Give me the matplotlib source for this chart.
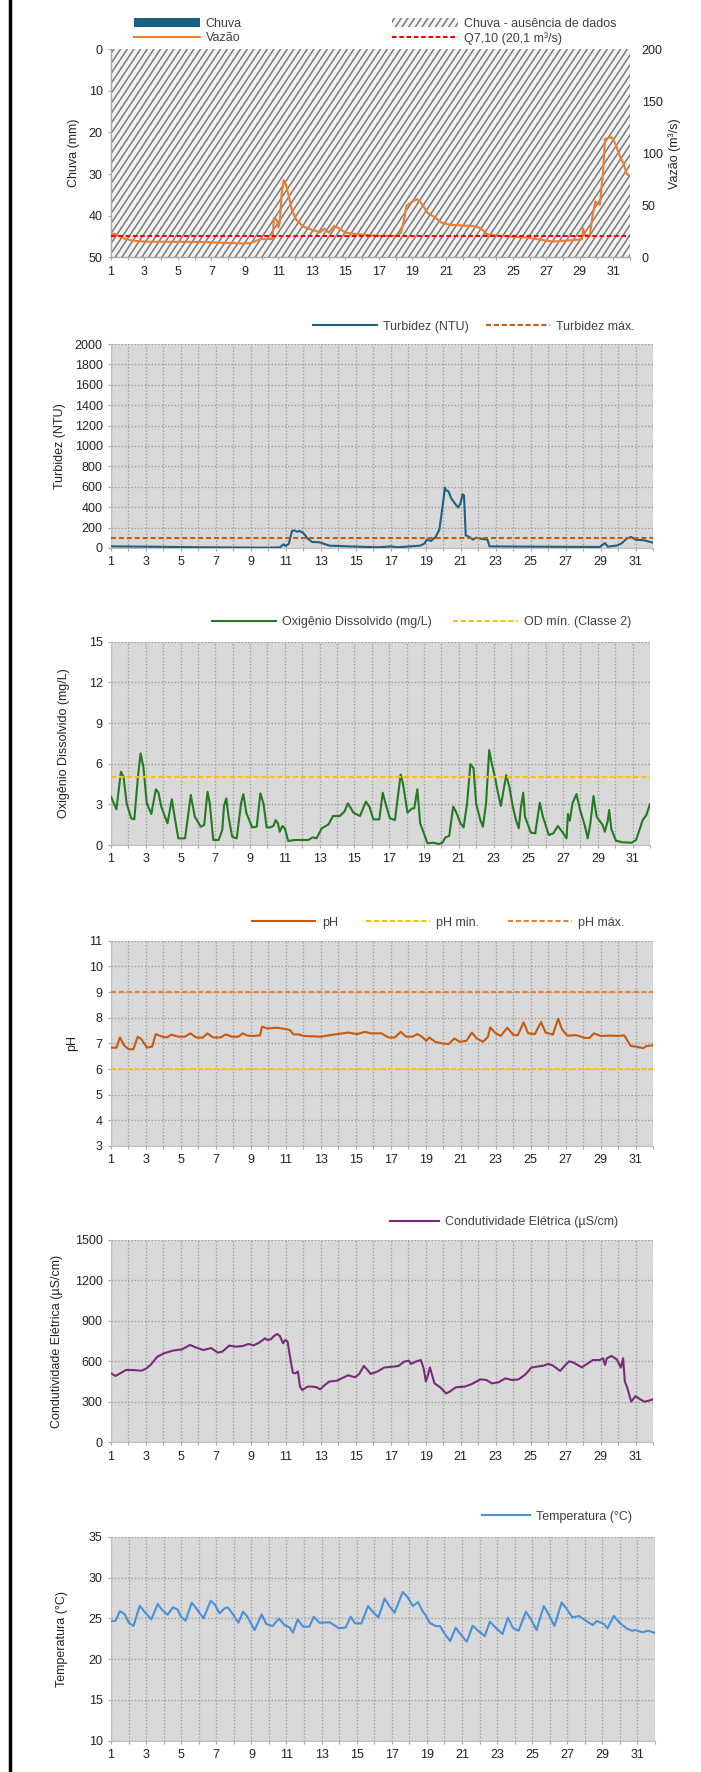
import matplotlib
matplotlib.use('Agg')
import numpy as np
import matplotlib.pyplot as plt
import matplotlib.hatch as mhatch
from matplotlib.path import Path
from matplotlib.lines import Line2D

W, H = 701, 1772
DPI = 100

plt.rcParams['font.family'] = ['Liberation Sans', 'DejaVu Sans']
plt.rcParams['font.size'] = 9
plt.rcParams['hatch.linewidth'] = 1.1
plt.rcParams['hatch.color'] = '#7a7a7a'


# steeper, denser '/' hatch (about 56 degrees, ~6.7 px apart) like the reference
def _ne_init(self, hatch, density):
    n = hatch.count('/')
    self.offsets = np.arange(-10, 16) / 15.0 if n else np.array([])
    self.num_vertices = 2 * len(self.offsets)


def _ne_set(self, vertices, codes):
    c = self.offsets
    vertices[0::2, 0] = c
    vertices[0::2, 1] = 0.0
    vertices[1::2, 0] = c + 2.0 / 3.0
    vertices[1::2, 1] = 1.0
    codes[0::2] = Path.MOVETO
    codes[1::2] = Path.LINETO


mhatch.NorthEastHatch.__init__ = _ne_init
mhatch.NorthEastHatch.set_vertices_and_codes = _ne_set

# ---------------- data ----------------
dias = list(range(1, 32))
day_ticks = list(range(1, 33))
day_labels = [str(d) if (d % 2 == 1 and d <= 31) else '' for d in day_ticks]

chuva = [0, 0, 0, 0, 0, 0, 0, 0, 0, 0, 0, 0, 0, 0, 0, 0, 0, 0, 0, 0,
         0, 0, 0, 0, 0, 0, 0, 0, 0, 0, 0]
chuva_ausencia = [50, 50, 50, 50, 50, 50, 50, 50, 50, 50, 50, 50, 50, 50, 50, 50,
                  50, 50, 50, 50, 50, 50, 50, 50, 50, 50, 50, 50, 50, 50, 50]

vazao_dia = [1.0, 1.3, 1.8, 2.3, 3.1, 6.3, 9.0, 9.4, 9.9, 10.65, 10.73, 10.9, 11.0, 11.08, 11.19,
             11.32, 11.45, 11.6, 11.8, 12.07, 12.47, 13.0, 13.5, 13.75, 14.0, 14.33, 14.6, 15.0,
             15.67, 17.0, 18.07, 18.33, 18.5, 18.65, 19.0, 19.27, 19.53, 19.93, 20.33, 20.73,
             21.27, 22.07, 22.6, 23.08, 23.45, 24.2, 25.8, 27.4, 28.73, 29.13, 29.2, 29.3, 29.6,
             29.75, 29.93, 30.07, 30.2, 30.4, 30.5, 30.7, 30.9, 31.1, 31.4, 31.6, 31.8, 31.93]
vazao = [23, 22, 18, 16, 15, 14.8, 13.2, 14, 17.4, 17.7, 37.6, 36, 28.6, 32.8, 60.8,
         74, 69.8, 60, 45.7, 36, 29.6, 26.4, 24, 27.6, 23.8, 30.2, 28, 23.8,
         22.2, 20.6, 20.6, 24, 36, 49.5, 53.7, 56, 52, 42.4, 38.6, 33.4,
         31.2, 30.5, 30.2, 28, 22.2, 20.6, 19, 15.1, 16.7, 17.4, 28, 21.5, 20.6,
         39, 53.7, 51.4, 50.5, 84, 113.8, 114.8, 115.4, 110, 97, 90.7, 80.4, 78.5]
q710 = 20.1

turb_dia = [1.0, 3.26, 6.1, 9.94, 10.66, 10.86, 11.0, 11.17, 11.35, 11.48, 11.63, 11.79, 12.0,
            12.25, 12.5, 12.9, 13.15, 13.5, 14.56, 16.36, 17.0, 17.4, 18.67, 18.93, 19.06, 19.3,
            19.57, 19.78, 19.96, 20.1, 20.16, 20.3, 20.47, 20.68, 20.86, 20.98, 21.11, 21.19,
            21.29, 21.5, 21.7, 21.88, 22.14, 22.53, 22.65, 25.35, 28.95, 29.26, 29.41, 29.98,
            30.23, 30.49, 30.75, 31.0, 31.5, 32.0]
turbidez = [16, 13, 7, 3, 6, 36, 20, 42, 167, 173, 160, 167, 147,
            92, 59, 56, 43, 23, 16, 7, 16, 7, 23, 43, 82, 69,
            108, 180, 402, 592, 566, 556, 484, 435, 396, 435, 527, 517,
            124, 108, 82, 101, 92, 82, 16, 13, 10, 49, 13, 26,
            49, 92, 108, 82, 75, 52]
turb_max = 100

od_dia = [1.0, 1.31, 1.57, 1.72, 1.9, 2.16, 2.34, 2.55, 2.7, 2.86,
          3.06, 3.32, 3.58, 3.73, 3.89, 4.25, 4.5, 4.66, 4.87, 5.26,
          5.59, 5.82, 6.16, 6.36, 6.55, 6.68, 6.88, 7.19, 7.4, 7.5,
          7.63, 7.76, 7.97, 8.23, 8.48, 8.61, 8.79, 9.12, 9.38, 9.59,
          9.77, 9.95, 10.16, 10.34, 10.47, 10.6, 10.7, 10.86, 11.0, 11.19,
          11.58, 12.35, 12.61, 12.82, 13.12, 13.51, 13.77, 14.16, 14.42, 14.63,
          14.94, 15.32, 15.66, 15.86, 16.09, 16.43, 16.63, 16.79, 17.04, 17.33,
          17.66, 17.79, 18.05, 18.31, 18.44, 18.62, 18.78, 19.03, 19.21, 19.55,
          19.86, 20.06, 20.24, 20.45, 20.68, 20.84, 21.1, 21.28, 21.48, 21.67,
          21.85, 22.0, 22.24, 22.39, 22.57, 22.75, 22.9, 23.08, 23.26, 23.42,
          23.73, 23.91, 24.11, 24.29, 24.45, 24.58, 24.71, 24.81, 25.15, 25.4,
          25.66, 25.84, 26.18, 26.44, 26.7, 26.95, 27.2, 27.28, 27.39, 27.54,
          27.77, 27.98, 28.24, 28.42, 28.57, 28.75, 28.93, 29.27, 29.4, 29.57,
          29.65, 29.78, 30.04, 30.42, 30.94, 31.2, 31.58, 31.79, 32.0]
od = [3.57, 2.63, 5.41, 5.04, 3.07, 1.97, 1.89, 5.04, 6.76, 5.78,
      3.07, 2.29, 4.11, 3.86, 2.83, 1.6, 3.37, 2.09, 0.49, 0.49,
      3.69, 2.09, 1.35, 1.48, 3.93, 3.07, 0.37, 0.37, 1.11, 2.88,
      3.44, 2.09, 0.61, 0.49, 3.07, 3.76, 2.34, 1.3, 1.35, 3.81,
      3.07, 1.3, 1.3, 1.4, 1.84, 1.6, 0.98, 1.4, 1.23, 0.3,
      0.37, 0.37, 0.57, 0.49, 1.23, 1.52, 2.14, 2.14, 2.46, 3.07,
      2.39, 2.14, 3.2, 2.83, 1.89, 1.89, 3.86, 3.07, 1.97, 1.84,
      5.21, 4.55, 2.39, 2.7, 2.7, 4.11, 1.6, 0.74, 0.12, 0.17,
      0.07, 0.17, 0.57, 0.66, 2.83, 2.46, 1.6, 1.3, 3.07, 5.97,
      5.66, 3.07, 1.84, 1.35, 3.07, 7.0, 6.02, 5.04, 3.81, 2.88,
      5.16, 4.3, 2.83, 1.84, 1.23, 2.83, 3.86, 2.09, 0.91, 0.86,
      3.12, 2.09, 0.74, 0.86, 1.4, 0.98, 0.49, 2.29, 1.79, 3.07,
      3.76, 2.58, 1.48, 0.49, 1.6, 3.61, 2.09, 1.48, 0.98, 1.79,
      2.58, 1.16, 0.32, 0.2, 0.17, 0.37, 1.84, 2.21, 3.02]
od_min = 5

ph_dia = [1.0, 1.31, 1.51, 1.77, 2.02, 2.28, 2.53, 2.74, 3.05, 3.35,
          3.56, 3.94, 4.2, 4.45, 4.84, 5.22, 5.55, 5.86, 6.24, 6.52,
          6.83, 7.27, 7.55, 7.91, 8.29, 8.54, 8.8, 9.18, 9.52, 9.64,
          9.95, 10.46, 10.97, 11.23, 11.43, 11.74, 12.0, 13.02, 13.53, 14.56,
          15.07, 15.53, 15.84, 16.47, 16.86, 17.24, 17.57, 17.88, 18.26, 18.52,
          18.78, 19.03, 19.21, 19.54, 19.93, 20.31, 20.64, 20.95, 21.33, 21.64,
          21.92, 22.28, 22.56, 22.69, 23.0, 23.3, 23.66, 24.02, 24.27, 24.6,
          24.86, 25.24, 25.6, 25.86, 26.27, 26.58, 26.79, 27.09, 27.6, 28.11,
          28.37, 28.62, 29.0, 29.52, 30.03, 30.36, 30.72, 31.05, 31.43, 31.64,
          32.0]
ph = [6.83, 6.83, 7.23, 6.9, 6.77, 6.77, 7.26, 7.16, 6.84, 6.87,
      7.36, 7.26, 7.23, 7.34, 7.26, 7.26, 7.39, 7.23, 7.22, 7.39,
      7.23, 7.23, 7.35, 7.26, 7.26, 7.39, 7.3, 7.29, 7.31, 7.65,
      7.58, 7.61, 7.56, 7.52, 7.35, 7.35, 7.29, 7.26, 7.32, 7.42,
      7.36, 7.45, 7.39, 7.39, 7.23, 7.23, 7.45, 7.26, 7.26, 7.36,
      7.26, 7.1, 7.23, 7.06, 7.0, 6.97, 7.19, 7.06, 7.1, 7.42,
      7.19, 7.06, 7.26, 7.62, 7.39, 7.29, 7.61, 7.32, 7.32, 7.82,
      7.39, 7.36, 7.83, 7.42, 7.34, 7.96, 7.55, 7.3, 7.32, 7.21,
      7.21, 7.39, 7.29, 7.3, 7.29, 7.31, 6.9, 6.87, 6.81, 6.9,
      6.92]
ph_min = 6
ph_max = 9

ce_dia = [1.0, 1.26, 1.59, 1.85, 2.23, 2.75, 3.0, 3.26, 3.65, 4.03,
          4.54, 5.06, 5.52, 5.83, 6.29, 6.73, 7.11, 7.37, 7.76, 8.14,
          8.53, 8.86, 9.17, 9.48, 9.81, 9.94, 10.14, 10.32, 10.5, 10.66,
          10.84, 10.97, 11.1, 11.27, 11.4, 11.53, 11.69, 11.81, 11.94, 12.25,
          12.51, 12.76, 12.97, 13.23, 13.48, 13.92, 14.56, 14.95, 15.2, 15.46,
          15.64, 15.85, 16.23, 16.62, 17.13, 17.44, 17.77, 18.03, 18.16, 18.42,
          18.72, 18.88, 19.01, 19.13, 19.24, 19.34, 19.5, 19.83, 20.16, 20.34,
          20.73, 21.24, 21.63, 22.14, 22.47, 22.78, 23.17, 23.55, 23.94, 24.32,
          24.71, 25.04, 25.35, 25.74, 25.99, 26.25, 26.69, 26.94, 27.2, 27.46,
          27.92, 28.23, 28.56, 28.95, 29.15, 29.26, 29.36, 29.62, 29.93, 30.16,
          30.29, 30.39, 30.54, 30.75, 31.0, 31.26, 31.52, 31.77, 32.0]
condutividade = [511, 492, 516, 536, 536, 531, 546, 573, 635, 660,
                 680, 689, 722, 704, 684, 699, 665, 672, 717, 709,
                 714, 729, 719, 739, 771, 759, 764, 788, 803, 788,
                 734, 759, 746, 610, 516, 511, 524, 413, 388, 413,
                 413, 408, 393, 425, 450, 457, 497, 482, 507, 566,
                 541, 507, 524, 554, 561, 566, 598, 605, 581, 598,
                 610, 549, 450, 499, 556, 511, 437, 408, 363, 373,
                 408, 413, 432, 467, 462, 437, 445, 474, 462, 467,
                 504, 554, 561, 568, 581, 571, 529, 566, 600, 591,
                 556, 581, 610, 610, 623, 573, 623, 640, 615, 554,
                 623, 450, 400, 301, 343, 319, 301, 309, 319]

temp_dia = [1.0, 1.26, 1.51, 1.77, 2.02, 2.28, 2.64, 2.9, 3.3, 3.66,
            3.92, 4.22, 4.53, 4.79, 4.99, 5.25, 5.6, 5.86, 6.27, 6.68,
            6.93, 7.19, 7.47, 7.65, 7.85, 8.26, 8.52, 8.77, 9.18, 9.59,
            9.85, 10.21, 10.57, 10.88, 11.18, 11.36, 11.64, 11.95, 12.3, 12.56,
            12.87, 13.48, 13.99, 14.38, 14.66, 14.91, 15.27, 15.65, 15.91, 16.24,
            16.6, 16.86, 17.16, 17.62, 17.88, 18.21, 18.49, 18.72, 18.98, 19.16,
            19.49, 19.75, 20.0, 20.33, 20.64, 20.95, 21.28, 21.61, 21.92, 22.3,
            22.59, 22.9, 23.31, 23.62, 23.92, 24.23, 24.64, 24.9, 25.25, 25.66,
            25.91, 26.27, 26.68, 26.94, 27.29, 27.68, 28.06, 28.45, 28.68, 29.09,
            29.29, 29.65, 29.98, 30.37, 30.68, 30.89, 31.27, 31.6, 31.95]
temperatura = [24.62, 24.7, 25.89, 25.52, 24.46, 24.05, 26.54, 25.81, 24.87, 26.75,
               26.01, 25.44, 26.34, 26.09, 25.2, 24.71, 26.91, 26.22, 24.99, 27.16,
               26.63, 25.6, 26.22, 26.34, 25.81, 24.46, 25.81, 25.2, 23.56, 25.48,
               24.3, 24.05, 24.99, 24.17, 23.89, 23.24, 24.87, 23.97, 23.97, 25.2,
               24.46, 24.5, 23.77, 23.89, 25.2, 24.38, 24.38, 26.5, 25.81, 25.11,
               27.44, 26.5, 25.69, 28.22, 27.65, 26.5, 26.99, 26.01, 25.2, 24.46,
               24.05, 24.05, 23.15, 22.21, 23.85, 22.95, 22.13, 24.09, 23.48, 22.83,
               24.58, 23.89, 23.07, 25.07, 23.77, 23.48, 25.81, 24.99, 23.56, 26.5,
               25.6, 24.05, 26.95, 26.22, 25.11, 25.28, 24.71, 24.17, 24.67, 24.3,
               23.77, 25.28, 24.46, 23.77, 23.48, 23.56, 23.28, 23.48, 23.24]

# ---------------- figure ----------------
TXT = '#222222'
LEG = '#404040'

fig = plt.figure(figsize=(W / DPI, H / DPI), dpi=DPI)
fig.patch.set_facecolor('white')


def make_ax(top, bottom, left=111, right=653):
    return fig.add_axes([left / W, 1 - bottom / H, (right - left) / W, (bottom - top) / H])


def label_at(ax, anchor_px, left, right):
    ax.yaxis.set_label_coords((anchor_px - left) / (right - left), 0.5)


def legend_at(ax, handles, labels, x_px, y_px, **kw):
    opts = dict(loc='center left', bbox_to_anchor=(x_px / W, 1 - y_px / H),
                bbox_transform=fig.transFigure, frameon=False, borderpad=0,
                borderaxespad=0, handletextpad=0.5, fontsize=9, labelcolor=LEG)
    opts.update(kw)
    return ax.legend(handles, labels, **opts)


def style(ax, ylim, yticks):
    ax.set_xlim(1, 32)
    ax.set_ylim(*ylim)
    ax.set_yticks(yticks)
    ax.set_xticks(day_ticks)
    ax.set_xticklabels(day_labels)
    ax.set_facecolor('#d9d9d9')
    ax.grid(True, color='#9c9c9c', linestyle=(0, (1, 1.4)), linewidth=1.0)
    ax.set_axisbelow(True)
    for s in ['top', 'right']:
        ax.spines[s].set_visible(False)
    for s in ['left', 'bottom']:
        ax.spines[s].set_color('#bfbfbf')
        ax.spines[s].set_linewidth(0.8)
    ax.tick_params(axis='both', direction='out', length=2.5, width=0.8,
                   color='#a6a6a6', labelcolor=TXT, labelsize=9, pad=3.5)


# ---- Chart 1: Chuva / Vazão ----
L1, R1 = 111, 630
ax1 = make_ax(49.3, 257.3, L1, R1)
b_aus = ax1.bar(dias, chuva_ausencia, width=1.0, align='edge', facecolor='#f2f2f2',
                edgecolor='#7a7a7a', linewidth=0, hatch='/', zorder=1)
b_chuva = ax1.bar(dias, chuva, width=1.0, align='edge', color='#1a5e80', zorder=2)
ax1.set_xlim(1, 32)
ax1.set_ylim(50, 0)
ax1.set_yticks([0, 10, 20, 30, 40, 50])
ax1.set_xticks(day_ticks)
ax1.set_xticklabels(day_labels)
for s in ['top', 'right']:
    ax1.spines[s].set_visible(False)
for s in ['left', 'bottom']:
    ax1.spines[s].set_color('#a6a6a6')
    ax1.spines[s].set_linewidth(1.0)
ax1.tick_params(axis='both', direction='out', length=2.5, width=0.8,
                color='#a6a6a6', labelcolor=TXT, labelsize=9, pad=3.5)
ax1.set_ylabel('Chuva (mm)', color=TXT, fontsize=9)
label_at(ax1, 80, L1, R1)

ax2 = ax1.twinx()
l_vazao, = ax2.plot(vazao_dia, vazao, color='#ed7d31', linewidth=1.5, zorder=3)
l_q = ax2.axhline(q710, color='#ff0000', linewidth=1.5, linestyle=(0, (2.2, 1.3)), zorder=4)
ax2.set_ylim(0, 200)
ax2.set_yticks([0, 50, 100, 150, 200])
for s in ['top', 'right', 'left', 'bottom']:
    ax2.spines[s].set_visible(False)
ax2.tick_params(axis='y', length=0, labelcolor=TXT, labelsize=9, pad=8.5)
ax2.set_ylabel('Vazão (m³/s)', color=TXT, fontsize=9)
label_at(ax2, 668, L1, R1)

legend_at(ax2, [b_chuva, l_vazao, b_aus, l_q],
          ['Chuva', 'Vazão', 'Chuva - ausência de dados', 'Q7,10 (20,1 m³/s)'],
          134, 31.5, ncol=2, handlelength=5.3, handletextpad=0.45,
          columnspacing=12.0, labelspacing=0.15)

# ---- Chart 2: Turbidez ----
ax = make_ax(344, 548)
style(ax, (0, 2000), list(range(0, 2001, 200)))
h1, = ax.plot(turb_dia, turbidez, color='#1f5f7f', linewidth=1.5, zorder=3)
h2 = ax.axhline(turb_max, color='#c55a11', linewidth=1.5, linestyle=(0, (2.4, 1.4)), zorder=4)
ax.set_ylabel('Turbidez (NTU)', color=TXT, fontsize=9)
label_at(ax, 66, 111, 653)
legend_at(ax, [h1, h2], ['Turbidez (NTU)', 'Turbidez máx.'], 313, 326.7,
          ncol=2, handlelength=5.1, columnspacing=1.4)

# ---- Chart 3: OD ----
ax = make_ax(641.7, 845, 111, 650)
style(ax, (0, 15), [0, 3, 6, 9, 12, 15])
h1, = ax.plot(od_dia, od, color='#237a23', linewidth=1.5, zorder=3)
h2 = ax.axhline(od_min, color='#ffc000', linewidth=1.5, linestyle=(0, (2.4, 1.4)), zorder=4)
ax.set_ylabel('Oxigênio Dissolvido (mg/L)', color=TXT, fontsize=9)
label_at(ax, 70, 111, 650)
legend_at(ax, [h1, h2], ['Oxigênio Dissolvido (mg/L)', 'OD mín. (Classe 2)'], 211.5, 622,
          ncol=2, handlelength=5.15, columnspacing=1.7)

# ---- Chart 4: pH ----
ax = make_ax(940.7, 1146)
style(ax, (3, 11), list(range(3, 12)))
h1, = ax.plot(ph_dia, ph, color='#c55a11', linewidth=1.5, zorder=3)
h2 = ax.axhline(ph_min, color='#ffc000', linewidth=1.5, linestyle=(0, (2.4, 1.4)), zorder=4)
h3 = ax.axhline(ph_max, color='#ed7d31', linewidth=1.5, linestyle=(0, (2.4, 1.4)), zorder=4)
ax.set_ylabel('pH', color=TXT, fontsize=9)
label_at(ax, 78, 111, 653)
legend_at(ax, [h1, h2, h3], ['pH', 'pH min.', 'pH máx.'], 251.7, 922.7,
          ncol=3, handlelength=5.1, columnspacing=2.3)

# ---- Chart 5: Condutividade ----
ax = make_ax(1240, 1442.3)
style(ax, (0, 1500), [0, 300, 600, 900, 1200, 1500])
h1, = ax.plot(ce_dia, condutividade, color='#7a2a7a', linewidth=1.5, zorder=3)
ax.set_ylabel('Condutividade Elétrica (µS/cm)', color=TXT, fontsize=9)
label_at(ax, 63, 111, 653)
legend_at(ax, [h1], ['Condutividade Elétrica (µS/cm)'], 390, 1222, handlelength=3.9)

# ---- Chart 6: Temperatura ----
ax = make_ax(1536.7, 1740.7, 111, 655)
style(ax, (10, 35), [10, 15, 20, 25, 30, 35])
h1, = ax.plot(temp_dia, temperatura, color='#4a90d9', linewidth=1.5, zorder=3)
ax.set_ylabel('Temperatura (°C)', color=TXT, fontsize=9)
label_at(ax, 68, 111, 655)
legend_at(ax, [h1], ['Temperatura (°C)'], 481.5, 1516.7, handlelength=3.9)

# left black border
fig.add_artist(Line2D([10 / W, 10 / W], [0, 1], transform=fig.transFigure,
                      color='black', linewidth=2.5))

fig.savefig('out.png', dpi=DPI)
